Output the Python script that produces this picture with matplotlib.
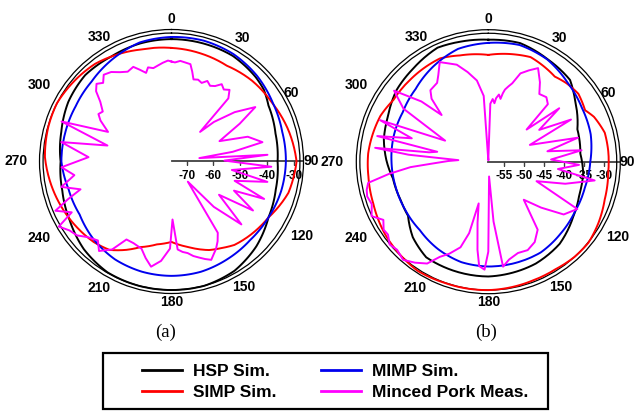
import matplotlib.pyplot as plt
import numpy as np
from matplotlib import transforms
from matplotlib.lines import Line2D
from matplotlib.patches import Rectangle

plt.rcParams['font.family'] = ['Liberation Sans', 'DejaVu Sans']

W, H = 643, 412

# ---- pattern (a): angle in degrees, level in dB ----
hsp_a_deg = [0, 30, 45, 52, 60, 75, 90, 105, 120, 135, 150, 165, 180, 195, 210,
             225, 240, 255, 270, 285, 300, 315, 330, 345]
hsp_a_db = [-29.9, -30.0, -31.1, -31.9, -33.8, -35.4, -36.0, -35.3, -33.8, -30.8,
            -28.5, -27.6, -27.6, -27.6, -27.8, -29.3, -31.7, -33.4, -34.2, -33.0,
            -31.1, -30.0, -30.4, -30.0]

mimp_a_deg = [0, 15, 30, 45, 60, 75, 90, 105, 120, 135, 150, 165, 180, 195, 210,
              225, 240, 255, 270, 285, 300, 315, 330, 345]
mimp_a_db = [-29.1, -28.9, -29.3, -30.4, -31.9, -32.8, -32.9, -33.2, -33.8, -34.1,
             -33.6, -33.0, -32.9, -33.0, -33.4, -34.5, -36.0, -35.8, -34.5, -34.5,
             -34.3, -33.4, -31.5, -29.6]

simp_a_deg = [0, 15, 30, 45, 60, 75, 90, 105, 120, 135, 143, 150, 157, 169, 180,
              190, 200, 207, 215, 224, 235, 248, 261, 272, 286, 297, 310, 322, 330, 345]
simp_a_db = [-33.2, -33.8, -34.3, -33.0, -32.1, -30.4, -28.9, -30.4, -33.8, -35.6,
             -36.6, -38.3, -39.7, -43.1, -45.6, -44.2, -41.6, -38.6, -35.3, -33.8,
             -32.6, -31.1, -29.6, -28.3, -27.8, -27.6, -28.5, -29.3, -30.4, -32.3]

pork_a_deg = [0, 2, 5, 8, 11, 13, 15, 18, 21, 24, 27, 30, 33, 36, 39, 42, 44, 47,
              52, 57, 61, 67, 72, 75, 78, 81, 83, 86, 89, 93, 98, 102, 107, 112,
              115, 121, 125, 132, 137, 141, 147, 150, 153, 155, 158, 161, 164, 167,
              170, 173, 176, 179, 181, 186, 191, 195, 199, 205, 210, 214, 219, 223,
              228, 232, 236, 240, 243, 247, 250, 253, 257, 262, 267, 273, 280, 284,
              290, 295, 300, 303, 306, 310, 313, 316, 319, 322, 326, 330, 334, 338,
              341, 344, 346, 349, 352, 355, 358]
pork_a_db = [-38.3, -38.6, -37.9, -38.3, -38.6, -41.2, -43.9, -43.5, -44.2, -42.7,
             -43.9, -43.1, -41.2, -42.4, -41.2, -43.9, -60.3, -54.0, -45.7, -38.3,
             -46.5, -56.2, -45.7, -43.5, -40.9, -52.5, -65.2, -39.7, -55.9, -38.3,
             -52.9, -39.0, -51.0, -38.3, -49.9, -40.1, -54.0, -40.5, -52.5, -66.0,
             -43.9, -41.2, -39.0, -37.9, -36.0, -37.1, -38.3, -39.4, -40.9, -41.6,
             -42.7, -54.0, -43.1, -38.3, -35.6, -38.3, -41.2, -42.0, -42.0, -36.0,
             -32.6, -35.3, -33.4, -30.8, -29.6, -27.0, -33.8, -28.5, -34.5, -40.1,
             -33.4, -39.0, -34.5, -44.6, -33.8, -51.0, -31.9, -49.5, -45.0, -43.1,
             -43.9, -40.9, -37.1, -35.3, -36.7, -34.5, -35.3, -37.1, -38.3, -37.5,
             -39.4, -41.2, -39.4, -40.1, -39.4, -38.6, -37.9]

# ---- pattern (b) ----
hsp_b_deg = [0, 15, 30, 45, 55, 70, 85, 97, 110, 123, 139, 155, 180, 198, 213, 225,
             236, 246, 260, 271, 282, 294, 308, 321, 336, 347]
hsp_b_db = [-28.4, -28.2, -29.3, -30.0, -32.4, -35.2, -35.8, -35.0, -34.7, -33.6,
            -31.7, -30.8, -30.2, -30.3, -30.4, -32.2, -34.7, -35.0, -34.7, -33.4,
            -32.2, -31.4, -29.8, -29.0, -27.7, -28.1]

mimp_b_deg = [0, 15, 30, 45, 60, 75, 90, 105, 120, 135, 150, 165, 180, 195, 210,
              225, 240, 255, 270, 285, 300, 315, 330, 345]
mimp_b_db = [-29.2, -28.7, -29.4, -30.9, -31.9, -32.4, -33.4, -33.9, -33.9, -33.4,
             -32.7, -32.7, -32.7, -32.9, -33.7, -34.7, -34.9, -34.9, -34.7, -34.4,
             -34.2, -33.2, -31.4, -29.7]

simp_b_deg = [0, 15, 22, 38, 45, 53, 62, 67, 76, 85, 95, 108, 119, 129, 138, 148,
              159, 180, 200, 213, 234, 250, 263, 274, 293, 303, 316, 335, 345]
simp_b_db = [-32.2, -31.2, -30.7, -31.9, -31.2, -30.7, -31.5, -30.2, -28.9, -28.8,
             -28.8, -28.3, -27.4, -26.7, -26.8, -27.2, -27.2, -26.8, -26.7, -26.4,
             -27.3, -28.3, -28.7, -28.8, -29.6, -30.6, -30.6, -30.4, -31.4]

pork_b_deg = [0, 2, 4, 6, 7, 9, 11, 12, 13, 15, 17, 20, 24, 28, 33, 37, 42, 46, 50,
              53, 58, 63, 68, 75, 80, 83, 88, 92, 96, 100, 106, 112, 118, 125, 131,
              137, 144, 150, 156, 162, 168, 172, 175, 177, 180, 182, 185, 187, 190,
              193, 195, 198, 203, 207, 211, 216, 221, 226, 230, 234, 237, 241, 245,
              250, 254, 257, 260, 263, 266, 268, 271, 273, 275, 277, 279, 281, 283,
              287, 291, 296, 302, 307, 312, 315, 318, 321, 327, 330, 334, 338, 342,
              347, 352, 356, 359]
pork_b_db = [-58.4, -44.4, -43.2, -44.2, -42.9, -41.9, -42.9, -41.4, -40.4, -39.4,
             -38.4, -35.4, -33.9, -32.4, -35.2, -37.7, -37.2, -38.2, -46.4, -36.7,
             -43.9, -35.7, -47.7, -35.7, -43.9, -35.4, -43.2, -36.2, -41.4, -31.9,
             -38.9, -45.9, -33.7, -35.9, -41.4, -45.9, -37.9, -35.7, -34.7, -34.9,
             -33.9, -32.4, -43.9, -55.2, -36.4, -31.9, -32.7, -36.7, -43.4, -48.2,
             -40.4, -36.4, -33.9, -32.2, -29.2, -27.7, -26.4, -27.2, -26.7, -27.9,
             -27.7, -28.9, -26.7, -27.9, -27.4, -27.7, -28.4, -33.9, -39.4, -44.7,
             -48.9, -51.4, -38.9, -30.4, -43.9, -45.9, -30.4, -38.9, -29.9, -46.9,
             -33.9, -29.4, -36.4, -42.4, -37.7, -35.9, -35.4, -33.9, -31.2, -32.4,
             -33.4, -35.9, -38.4, -42.4, -58.4]

names = ['HSP Sim.', 'SIMP Sim.', 'MIMP Sim.', 'Minced Pork Meas.']
colors = ['black', 'red', '#0000ee', 'magenta']
smooth = [True, True, True, False]

ticks_a = [-70, -60, -50, -40, -30]
ticks_b = [-55, -50, -45, -40, -35, -30]
theta_labels = list(range(0, 360, 30))
# distance of each angle label from the centre, in units of the plot radius
label_dist = [1.083, 1.079, 1.045, 1.055, 1.136, 1.098, 1.062, 1.103, 1.157, 1.18,
              1.156, 1.089]


def closed(deg, db):
    t = np.deg2rad(np.append(deg, deg[0] + 360))
    return t, np.append(db, db[0])


def pattern(rect, rmin, rmax, series, ticks):
    ax = fig.add_axes(rect, projection='polar')
    ax.set_theta_zero_location('N')
    ax.set_theta_direction(-1)
    ax.set_rlim(rmin, rmax)
    ax.set_xticks([])
    ax.set_rgrids([rmin + 0.973 * (rmax - rmin)], labels=[''])
    ax.xaxis.grid(False)
    ax.yaxis.grid(True, color='black', lw=0.9)
    ax.spines['polar'].set_linewidth(0.9)

    # radial scale along 90 deg
    ax.plot([np.pi / 2, np.pi / 2], [rmin, rmax], color='#404040', lw=1.3, zorder=1)
    ax.plot([np.pi / 2] * len(ticks), ticks, ls='none', marker=3, ms=3,
            color='#404040', zorder=1)
    below = transforms.offset_copy(ax.transData, fig=fig, x=0, y=-10.5, units='points')
    for t in ticks:
        ax.text(np.pi / 2, t, str(t), transform=below, ha='center', va='center',
                fontsize=8.5, fontweight='bold', zorder=1)

    for ang, d in zip(theta_labels, label_dist):
        ax.text(np.deg2rad(ang), rmin + d * (rmax - rmin), str(ang), ha='center',
                va='center', fontsize=10, fontweight='bold', clip_on=False)

    for (deg, db), c, sm in zip(series, colors, smooth):
        t, r = closed(deg, db)
        line, = ax.plot(t, r, color=c, lw=1.4, zorder=3)
        if sm:
            # follow arcs between the sample angles instead of straight chords
            line.get_path()._interpolation_steps = 12
    return ax


fig = plt.figure(figsize=(W / 100, H / 100), dpi=100)

R = 132
pattern([(171.5 - R) / W, 1 - (161.5 + R) / H, 2 * R / W, 2 * R / H], -75.7, -26.3,
        [(hsp_a_deg, hsp_a_db), (simp_a_deg, simp_a_db),
         (mimp_a_deg, mimp_a_db), (pork_a_deg, pork_a_db)], ticks_a)
pattern([(488.3 - R) / W, 1 - (161.7 + R) / H, 2 * R / W, 2 * R / H], -58.9, -25.9,
        [(hsp_b_deg, hsp_b_db), (simp_b_deg, simp_b_db),
         (mimp_b_deg, mimp_b_db), (pork_b_deg, pork_b_db)], ticks_b)

fig.text(166 / W, 1 - 332 / H, '(a)', ha='center', va='center', fontsize=13.5,
         family='Liberation Serif')
fig.text(486 / W, 1 - 332 / H, '(b)', ha='center', va='center', fontsize=13.5,
         family='Liberation Serif')

# legend box
fig.add_artist(Rectangle((103 / W, 1 - 409 / H), 445 / W, 56 / H,
                         transform=fig.transFigure, fill=False, lw=1.6, ec='black'))
handles = [Line2D([], [], color=c, lw=2) for c in colors]
fig.legend(handles, names, ncol=2, loc='center left', frameon=False,
           bbox_to_anchor=(142 / W, 1 - 382 / H), borderpad=0, borderaxespad=0,
           handlelength=2.3, handletextpad=0.62, columnspacing=2.6,
           labelspacing=0.3, prop={'weight': 'bold', 'size': 12.5})

fig.savefig('out.png', dpi=100)
